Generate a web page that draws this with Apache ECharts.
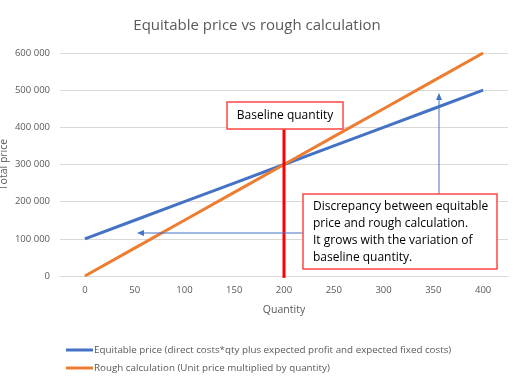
<!DOCTYPE html>
<html>
<head>
<meta charset="utf-8">
<script src="https://cdn.jsdelivr.net/npm/echarts@6/dist/echarts.min.js"></script>
<style>html,body{margin:0;padding:0;background:#fff;}#c{width:514px;height:386px;}</style>
</head>
<body>
<div id="c"></div>
<script>
const quantities = ['0','50','100','150','200','250','300','350','400'];
const equitablePrice = [100000,150000,200000,250000,300000,350000,400000,450000,500000];
const roughCalculation = [0,75000,150000,225000,300000,375000,450000,525000,600000];
const seriesNames = ['Equitable price (direct costs*qty plus expected profit and expected fixed costs)','Rough calculation (Unit price multiplied by quantity)'];
const baselineQty = '200';
const baselineRange = [-5000, 395000];

const FONT = '"Open Sans", sans-serif';
const bIdx = quantities.indexOf(baselineQty);
const chart = echarts.init(document.getElementById('c'), null, {renderer:'canvas'});
chart.setOption({
  animation:false,
  backgroundColor:'#fff',
  title:{text:'Equitable price vs rough calculation',left:'center',top:13,
    textStyle:{fontFamily:FONT,fontSize:15,fontWeight:'normal',color:'#595959'}},
  grid:{left:60,right:6,top:53,bottom:110,containLabel:false,outerBoundsMode:'none'},
  legend:{orient:'vertical',left:61,top:340,itemWidth:27,itemHeight:3,itemGap:8,icon:'rect',
    textStyle:{fontFamily:FONT,fontSize:9.8,color:'#595959',padding:[0,0,0,-4]}},
  xAxis:{type:'category',data:quantities,boundaryGap:true,name:'Quantity',nameLocation:'middle',nameGap:29,
    nameMoveOverlap:false,
    nameTextStyle:{fontFamily:FONT,fontSize:10.5,color:'#595959'},
    axisLine:{lineStyle:{color:'#d9d9d9'}},axisTick:{show:false},
    axisLabel:{fontFamily:FONT,fontSize:9.5,color:'#595959',margin:9}},
  yAxis:{type:'value',min:0,max:600000,interval:100000,name:'Total price',nameLocation:'middle',nameGap:50,
    nameMoveOverlap:false,
    nameTextStyle:{fontFamily:FONT,fontSize:10.5,color:'#595959'},
    axisLine:{show:false},axisTick:{show:false},
    axisLabel:{fontFamily:FONT,fontSize:9.5,color:'#595959',margin:10,
      formatter:v=>v===0?'0':String(v).replace(/\B(?=(\d{3})+(?!\d))/g,' ')},
    splitLine:{lineStyle:{color:'#d9d9d9'}}},
  series:[
    {name:seriesNames[0],type:'line',data:equitablePrice,symbol:'none',lineStyle:{width:3,color:'#4472C4'},itemStyle:{color:'#4472C4'},z:3},
    {name:seriesNames[1],type:'line',data:roughCalculation,symbol:'none',lineStyle:{width:3,color:'#ED7D31'},itemStyle:{color:'#ED7D31'},z:3},
    {name:'baseline',type:'line',data:[[bIdx,baselineRange[0]],[bIdx,baselineRange[1]]],symbol:'none',clip:false,
      lineStyle:{width:3,color:'#FF0000'},itemStyle:{color:'#FF0000'},z:4,silent:true}
  ],
  graphic:[
    {type:'rect',shape:{x:227,y:102,width:116,height:27},style:{fill:'#fff',stroke:'#FF4545',lineWidth:1.5},z:10},
    {type:'text',x:285,y:115.5,style:{text:'Baseline quantity',fontFamily:FONT,fontSize:12,fill:'#000',align:'center',verticalAlign:'middle'},z:11},
    {type:'rect',shape:{x:303,y:194,width:194,height:75},style:{fill:'#fff',stroke:'#FF4545',lineWidth:1.5},z:10},
    {type:'text',x:313,y:198,style:{text:'Discrepancy between equitable\nprice and rough calculation.\nIt grows with the variation of\nbaseline quantity.',fontFamily:FONT,fontSize:12,lineHeight:17,fill:'#000',align:'left',verticalAlign:'top'},z:11},
    {type:'line',shape:{x1:303,y1:233,x2:142,y2:233},style:{stroke:'#4472C4',lineWidth:1},z:9},
    {type:'polygon',shape:{points:[[137,233],[144,230],[144,236]]},style:{fill:'#4472C4'},z:9},
    {type:'line',shape:{x1:439,y1:194,x2:439,y2:98},style:{stroke:'#4472C4',lineWidth:1},z:9},
    {type:'polygon',shape:{points:[[439,93],[436,100],[442,100]]},style:{fill:'#4472C4'},z:9}
  ]
});
chart.setOption({legend:{data:seriesNames}});
</script>
</body>
</html>
